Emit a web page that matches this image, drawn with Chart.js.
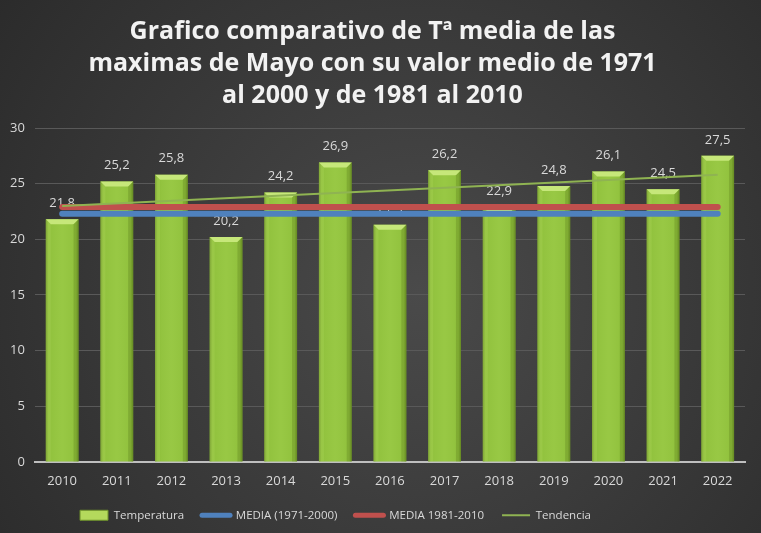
<!DOCTYPE html>
<html><head><meta charset="utf-8">
<script src="https://cdn.jsdelivr.net/npm/chart.js@4.4.1/dist/chart.umd.min.js"></script>
<style>html,body{margin:0;padding:0;background:#333;}#wrap{width:761px;height:533px;}</style>
</head><body><div id="wrap"><canvas id="c" width="761" height="533"></canvas></div>
<script>
const categories = ['2010','2011','2012','2013','2014','2015','2016','2017','2018','2019','2020','2021','2022'];
const temperatura = [21.8,25.2,25.8,20.2,24.2,26.9,21.3,26.2,22.9,24.8,26.1,24.5,27.5];
const media7100 = [22.3,22.3,22.3,22.3,22.3,22.3,22.3,22.3,22.3,22.3,22.3,22.3,22.3];
const media8110 = [22.9,22.9,22.9,22.9,22.9,22.9,22.9,22.9,22.9,22.9,22.9,22.9,22.9];
const tendencia = [23.0,null,null,null,null,null,null,null,null,null,null,null,25.8];
const yTicks = [0,5,10,15,20,25,30];
const seriesNames = ['Temperatura','MEDIA (1971-2000)','MEDIA 1981-2010','Tendencia'];
const titleLines = ['Grafico comparativo de Tª media de las','maximas de Mayo con su valor medio de 1971','al 2000 y de 1981 al 2010'];

const FONT = "'Open Sans', sans-serif";
const TXT = '#d9d9d9';

const bgPlugin = {
  id: 'bg',
  beforeDraw(chart) {
    const {ctx, width, height} = chart;
    const g = ctx.createRadialGradient(width*0.55, height*0.55, 0, width*0.55, height*0.55, Math.max(width, height)*0.7);
    g.addColorStop(0, '#4a4a4a');
    g.addColorStop(1, '#2a2a2a');
    ctx.save();
    ctx.fillStyle = g;
    ctx.fillRect(0, 0, width, height);
    ctx.restore();
  }
};

const legendShift = {
  id: 'legendShift',
  afterLayout(chart) {
    const lg = chart.legend;
    if (!lg) return;
    lg.left -= 37; lg.right -= 37;
    lg.top -= 2; lg.bottom -= 2;
  }
};

const barDeco = {
  id: 'barDeco',
  afterDatasetDraw(chart, args) {
    if (args.index !== 0) return;
    const ctx = chart.ctx;
    ctx.save();
    args.meta.data.forEach((bar, i) => {
      const p = bar.getProps(['x','y','base','width'], true);
      const l = p.x - p.width/2, r = p.x + p.width/2, h = p.base - p.y;
      const g = ctx.createLinearGradient(l, 0, r, 0);
      g.addColorStop(0, 'rgba(70,95,15,0.45)');
      g.addColorStop(0.08, 'rgba(70,95,15,0.05)');
      g.addColorStop(0.5, 'rgba(255,255,200,0.04)');
      g.addColorStop(0.92, 'rgba(70,95,15,0.05)');
      g.addColorStop(1, 'rgba(70,95,15,0.45)');
      ctx.fillStyle = g;
      ctx.fillRect(l, p.y, p.width, h);
      const b = Math.min(5, h/2);
      ctx.beginPath();
      ctx.moveTo(l, p.y); ctx.lineTo(r, p.y); ctx.lineTo(r-b, p.y+b); ctx.lineTo(l+b, p.y+b); ctx.closePath();
      ctx.fillStyle = '#c6e77a';
      ctx.fill();
      ctx.beginPath();
      ctx.moveTo(l, p.y); ctx.lineTo(l+b, p.y+b); ctx.lineTo(l+b, p.base); ctx.lineTo(l, p.base); ctx.closePath();
      ctx.fillStyle = 'rgba(190,225,110,0.2)';
      ctx.fill();
      ctx.beginPath();
      ctx.moveTo(r, p.y); ctx.lineTo(r-b, p.y+b); ctx.lineTo(r-b, p.base); ctx.lineTo(r, p.base); ctx.closePath();
      ctx.fillStyle = 'rgba(60,85,10,0.2)';
      ctx.fill();
      ctx.fillStyle = TXT;
      ctx.font = "13px " + FONT;
      ctx.textAlign = 'center';
      ctx.textBaseline = 'middle';
      ctx.fillText(String(temperatura[i]).replace('.', ','), p.x, p.y - 16);
    });
    ctx.restore();
  }
};

new Chart(document.getElementById('c'), {
  data: {
    labels: categories,
    datasets: [
      {type:'bar', label: seriesNames[0], data: temperatura, backgroundColor:'#94c63f', borderWidth:0, barPercentage:0.6, categoryPercentage:1.0, order:5},
      {type:'line', label: seriesNames[1], data: media7100, borderColor:'#4f81bd', borderWidth:6, borderCapStyle:'round', pointRadius:0, fill:false, order:3},
      {type:'line', label: seriesNames[2], data: media8110, borderColor:'#c0504d', borderWidth:6, borderCapStyle:'round', pointRadius:0, fill:false, order:2},
      {type:'line', label: seriesNames[3], data: tendencia, borderColor:'#8fb352', borderWidth:2, pointRadius:0, spanGaps:true, fill:false, order:1}
    ]
  },
  options: {
    responsive: false,
    animation: false,
    devicePixelRatio: 1,
    layout: {padding: {left: 0, right: 16, top: 0, bottom: 0}},
    plugins: {
      tooltip: {enabled:false},
      title: {
        display: true,
        text: titleLines,
        color: '#f2f2f2',
        font: {family: FONT, size: 25, weight: 'bold', lineHeight: 1.28},
        padding: {top: 16, bottom: 16}
      },
      legend: {
        position: 'bottom',
        labels: {
          color: TXT,
          font: {family: FONT, size: 11.5},
          usePointStyle: true,
          pointStyleWidth: 28,
          boxHeight: 10,
          padding: 18,
          generateLabels() {
            return [
              {text: seriesNames[0], fillStyle:'#b4d95c', strokeStyle:'#6f922b', lineWidth:1, pointStyle:'rect', datasetIndex:0, fontColor:TXT},
              {text: seriesNames[1], fillStyle:'#4f81bd', strokeStyle:'#4f81bd', lineWidth:5, lineCap:'round', pointStyle:'line', datasetIndex:1, fontColor:TXT},
              {text: seriesNames[2], fillStyle:'#c0504d', strokeStyle:'#c0504d', lineWidth:5, lineCap:'round', pointStyle:'line', datasetIndex:2, fontColor:TXT},
              {text: seriesNames[3], fillStyle:'#8fb352', strokeStyle:'#8fb352', lineWidth:2, pointStyle:'line', datasetIndex:3, fontColor:TXT}
            ];
          }
        }
      }
    },
    scales: {
      x: {
        grid: {display: false},
        border: {display: true, color: '#bfbfbf', width: 2},
        ticks: {color: TXT, font: {family: FONT, size: 13}, padding: 4}
      },
      y: {
        min: 0, max: 30,
        afterBuildTicks(axis) { axis.ticks = yTicks.map(v => ({value: v})); },
        grid: {color: '#595959', lineWidth: 1, drawTicks: false},
        border: {display: false},
        ticks: {color: TXT, font: {family: FONT, size: 13}, padding: 10}
      }
    }
  },
  plugins: [bgPlugin, legendShift, barDeco]
});
</script></body></html>
